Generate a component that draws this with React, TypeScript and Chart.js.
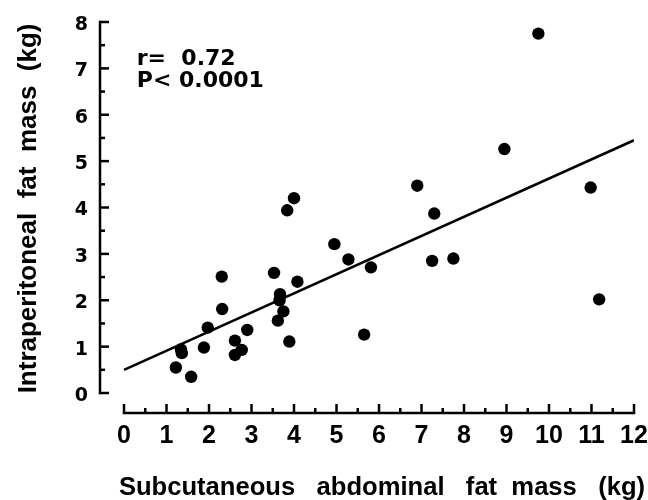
import React, { useEffect, useRef } from "react";
import { Chart, registerables } from "chart.js";

Chart.register(...registerables);

// Subcutaneous abdominal fat mass (kg)
const subcutaneous = [
  1.22, 1.34, 1.36, 1.58, 1.88, 1.97, 2.3, 2.31, 2.61, 2.61, 2.77, 2.9, 3.53,
  3.67, 3.66, 3.75, 3.62, 3.89, 3.84, 4.0, 4.08, 4.95, 5.28, 5.65, 5.81, 6.9,
  7.25, 7.3, 7.75, 8.95, 9.75, 10.98, 11.18,
];
// Intraperitoneal fat mass (kg)
const intraperitoneal = [
  0.55, 0.94, 0.86, 0.35, 0.98, 1.41, 2.51, 1.81, 1.13, 0.82, 0.93, 1.36, 2.59,
  2.13, 2.0, 1.76, 1.56, 1.11, 3.94, 4.2, 2.4, 3.21, 2.88, 1.26, 2.71, 4.47,
  2.85, 3.87, 2.9, 5.26, 7.75, 4.43, 2.02,
];
// Regression line end points
const fitX = [0, 12];
const fitY = [0.5, 5.45];

const xTicks = [0, 1, 2, 3, 4, 5, 6, 7, 8, 9, 10, 11, 12];
const yTicks = [0, 1, 2, 3, 4, 5, 6, 7, 8];

const xTitle = "Subcutaneous   abdominal   fat  mass   (kg)";
const yTitle = "Intraperitoneal  fat  mass  (kg)";
const statLines = ["r=  0.72", "P< 0.0001"];

const axesPlugin = {
  id: "offsetAxes",
  afterDraw(chart: any) {
    const { ctx } = chart;
    const xs = chart.scales.x;
    const ys = chart.scales.y;
    ctx.save();
    ctx.strokeStyle = "#000";
    ctx.lineWidth = 2.5;
    ctx.lineCap = "butt";

    // Y axis (offset to the left of x = 0)
    const ax = xs.left;
    const yTop = ys.getPixelForValue(yTicks[yTicks.length - 1]);
    const yBot = ys.getPixelForValue(yTicks[0]);
    ctx.beginPath();
    ctx.moveTo(ax, yTop - 1.25);
    ctx.lineTo(ax, yBot + 1.25);
    ctx.stroke();
    for (let i = 0; i < yTicks.length; i++) {
      const p = ys.getPixelForValue(yTicks[i]);
      ctx.beginPath();
      ctx.moveTo(ax, p);
      ctx.lineTo(ax + 9, p);
      ctx.stroke();
      if (i < yTicks.length - 1) {
        const m = ys.getPixelForValue((yTicks[i] + yTicks[i + 1]) / 2);
        ctx.beginPath();
        ctx.moveTo(ax, m);
        ctx.lineTo(ax + 5, m);
        ctx.stroke();
      }
    }

    // X axis (offset below y = 0)
    const ay = ys.bottom;
    const xL = xs.getPixelForValue(xTicks[0]);
    const xR = xs.getPixelForValue(xTicks[xTicks.length - 1]);
    ctx.beginPath();
    ctx.moveTo(xL - 1.25, ay);
    ctx.lineTo(xR + 1.25, ay);
    ctx.stroke();
    for (let i = 0; i < xTicks.length; i++) {
      const p = xs.getPixelForValue(xTicks[i]);
      ctx.beginPath();
      ctx.moveTo(p, ay);
      ctx.lineTo(p, ay - 9);
      ctx.stroke();
      if (i < xTicks.length - 1) {
        const m = xs.getPixelForValue((xTicks[i] + xTicks[i + 1]) / 2);
        ctx.beginPath();
        ctx.moveTo(m, ay);
        ctx.lineTo(m, ay - 5);
        ctx.stroke();
      }
    }

    // Axis titles
    ctx.fillStyle = "#000";
    ctx.font = "bold 25.6px 'Liberation Sans', Arial, sans-serif";
    ctx.textAlign = "center";
    ctx.textBaseline = "alphabetic";
    ctx.fillText(xTitle, xs.getPixelForValue(6.07), chart.height - 5);

    ctx.save();
    ctx.translate(29, ys.getPixelForValue(3.98));
    ctx.rotate(-Math.PI / 2);
    ctx.font = "bold 26px 'Liberation Sans', Arial, sans-serif";
    ctx.textBaseline = "middle";
    ctx.fillText(yTitle, 0, 0);
    ctx.restore();

    // Statistics annotation
    ctx.font = "bold 22px 'DejaVu Sans', sans-serif";
    ctx.textAlign = "left";
    ctx.textBaseline = "alphabetic";
    ctx.fillText(statLines[0], xs.getPixelForValue(0.3), ys.getPixelForValue(7.07));
    ctx.fillText(statLines[1], xs.getPixelForValue(0.3), ys.getPixelForValue(6.6));
    ctx.restore();
  },
};

export default function App() {
  const ref = useRef<HTMLCanvasElement | null>(null);

  useEffect(() => {
    if (!ref.current) return;
    const points = subcutaneous.map((x, i) => ({ x, y: intraperitoneal[i] }));
    const fit = fitX.map((x, i) => ({ x, y: fitY[i] }));
    const chart = new Chart(ref.current, {
      type: "scatter",
      data: {
        datasets: [
          {
            label: "Subjects",
            data: points,
            pointRadius: 6.2,
            pointHoverRadius: 6.2,
            backgroundColor: "#000",
            borderWidth: 0,
          },
          {
            label: "Regression",
            data: fit,
            showLine: true,
            pointRadius: 0,
            borderColor: "#000",
            borderWidth: 2.5,
            fill: false,
          } as any,
        ],
      },
      options: {
        animation: false,
        responsive: true,
        maintainAspectRatio: false,
        layout: { padding: { top: 22, right: 14, left: 0, bottom: 0 } },
        plugins: { legend: { display: false }, tooltip: { enabled: false } },
        scales: {
          x: {
            type: "linear",
            min: -0.565,
            max: 12,
            afterBuildTicks: (s: any) => {
              s.ticks = xTicks.map((v) => ({ value: v }));
            },
            afterFit: (s: any) => {
              s.height = 87;
              s.paddingLeft = 0;
              s.paddingRight = 0;
            },
            grid: { display: false, drawTicks: false },
            border: { display: false },
            ticks: {
              color: "#000",
              padding: 8,
              font: { family: "'Liberation Sans', Arial, sans-serif", size: 25, weight: "bold" },
              callback: (v: any) => String(v),
            },
          },
          y: {
            type: "linear",
            min: -0.431,
            max: 8,
            afterBuildTicks: (s: any) => {
              s.ticks = yTicks.map((v) => ({ value: v }));
            },
            afterFit: (s: any) => {
              s.width = 100;
              s.paddingTop = 0;
              s.paddingBottom = 0;
            },
            grid: { display: false, drawTicks: false },
            border: { display: false },
            ticks: {
              color: "#000",
              padding: 12,
              labelOffset: 3,
              font: { family: "'DejaVu Sans', sans-serif", size: 19, weight: "bold" },
              callback: (v: any) => String(v),
            },
          },
        },
      },
      plugins: [axesPlugin],
    });
    return () => chart.destroy();
  }, []);

  return (
    <div style={{ position: "absolute", left: 0, top: 0, width: 648, height: 500, background: "#fff" }}>
      <canvas ref={ref} />
    </div>
  );
}
